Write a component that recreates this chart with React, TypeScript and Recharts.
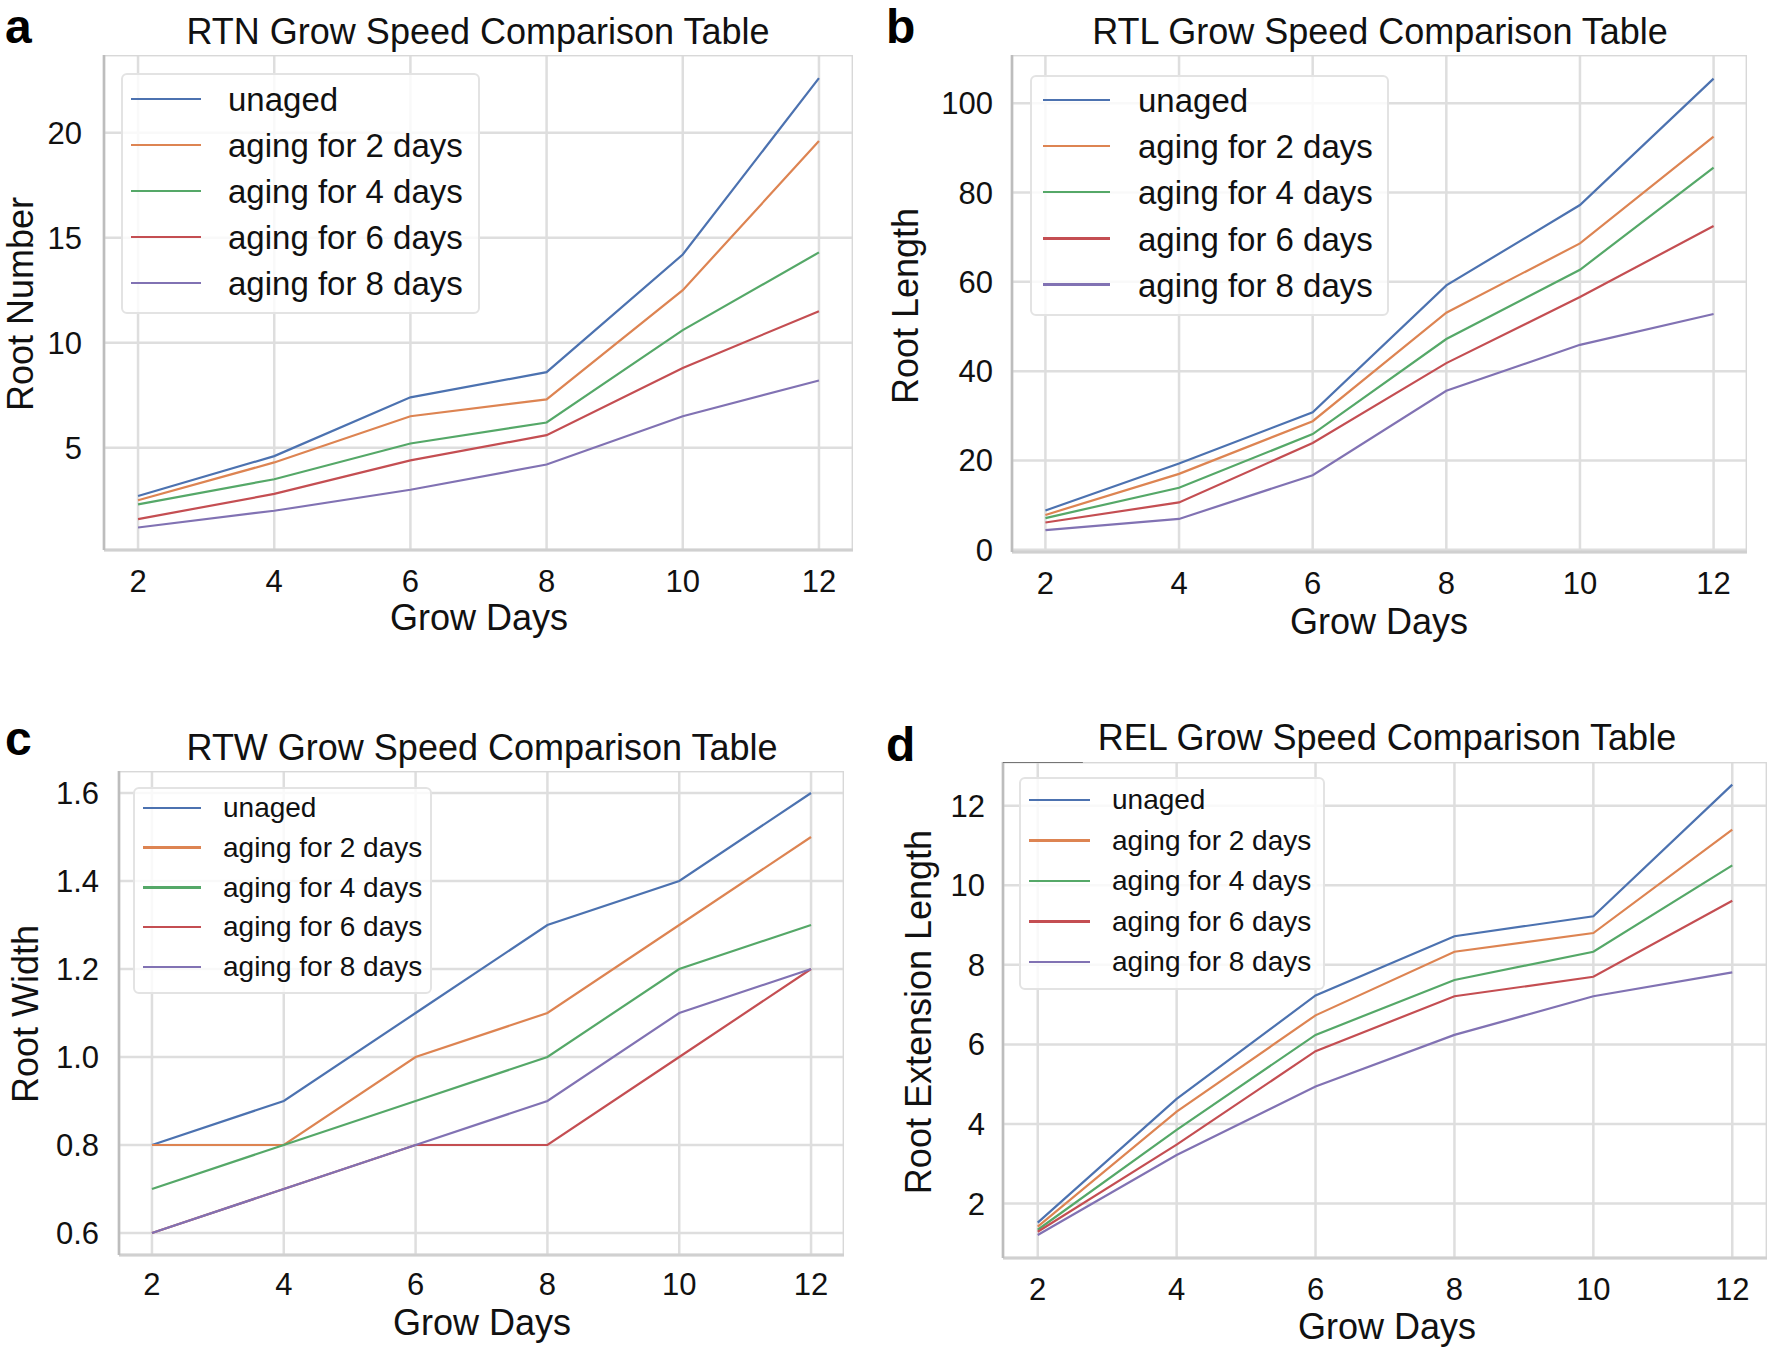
import React from 'react';
import { LineChart, Line, XAxis, YAxis, CartesianGrid, ReferenceLine, Legend } from 'recharts';

const FONT = "'Liberation Sans', Arial, Helvetica, sans-serif";

const days = [2, 4, 6, 8, 10, 12];
const seriesNames = ['unaged', 'aging for 2 days', 'aging for 4 days', 'aging for 6 days', 'aging for 8 days'];
const colors = ['#4C72B0', '#DD8452', '#55A868', '#C44E52', '#8172B3'];

// a: RTN (Root Number)
const rtnUnaged = [2.7, 4.6, 7.4, 8.6, 14.2, 22.6];
const rtnAging2 = [2.5, 4.3, 6.5, 7.3, 12.5, 19.6];
const rtnAging4 = [2.3, 3.5, 5.2, 6.2, 10.6, 14.3];
const rtnAging6 = [1.6, 2.8, 4.4, 5.6, 8.8, 11.5];
const rtnAging8 = [1.2, 2.0, 3.0, 4.2, 6.5, 8.2];
const rtnTicks = [5, 10, 15, 20];

// b: RTL (Root Length)
const rtlUnaged = [8.8, 19.3, 30.8, 59.2, 77.2, 105.5];
const rtlAging2 = [7.8, 17.0, 28.8, 53.1, 68.6, 92.5];
const rtlAging4 = [7.1, 13.9, 25.9, 47.2, 62.7, 85.6];
const rtlAging6 = [6.1, 10.6, 23.9, 41.8, 56.6, 72.5];
const rtlAging8 = [4.4, 6.9, 16.7, 35.6, 45.9, 52.8];
const rtlTicks = [0, 20, 40, 60, 80, 100];

// c: RTW (Root Width)
const rtwUnaged = [0.8, 0.9, 1.1, 1.3, 1.4, 1.6];
const rtwAging2 = [0.8, 0.8, 1.0, 1.1, 1.3, 1.5];
const rtwAging4 = [0.7, 0.8, 0.9, 1.0, 1.2, 1.3];
const rtwAging6 = [0.6, 0.7, 0.8, 0.8, 1.0, 1.2];
const rtwAging8 = [0.6, 0.7, 0.8, 0.9, 1.1, 1.2];
const rtwTicks = [0.6, 0.8, 1.0, 1.2, 1.4, 1.6];

// d: REL (Root Extension Length)
const relUnaged = [1.52, 4.63, 7.23, 8.72, 9.22, 12.53];
const relAging2 = [1.42, 4.31, 6.73, 8.33, 8.8, 11.4];
const relAging4 = [1.34, 3.85, 6.24, 7.62, 8.33, 10.5];
const relAging6 = [1.29, 3.48, 5.83, 7.21, 7.7, 9.61];
const relAging8 = [1.21, 3.22, 4.94, 6.24, 7.21, 7.81];
const relTicks = [2, 4, 6, 8, 10, 12];

const X_DOMAIN = [1.5, 12.5];
const Y_W = 100;
const X_H = 80;

type Cfg = {
  series: number[][];
  plot: { x: number; y: number; w: number; h: number };
  yDomain: number[];
  yTicks: number[];
  fmt?: (v: number) => string;
  yTickMargin: number;
  xTickMargin: number;
  legend: { x: number; y: number; w: number; h: number; rowH: number; first: number; lineX: number; lineW: number; textX: number; font: number };
  extraSegment?: boolean;
};

const panels: Cfg[] = [
  {
    series: [rtnUnaged, rtnAging2, rtnAging4, rtnAging6, rtnAging8],
    plot: { x: 104, y: 55, w: 749, h: 495 },
    yDomain: [0.13, 23.7],
    yTicks: rtnTicks,
    yTickMargin: 22,
    xTickMargin: 20,
    legend: { x: 121, y: 73, w: 359, h: 241, rowH: 46.1, first: 26, lineX: 10, lineW: 70, textX: 107, font: 33 },
  },
  {
    series: [rtlUnaged, rtlAging2, rtlAging4, rtlAging6, rtlAging8],
    plot: { x: 1012, y: 55, w: 735, h: 497 },
    yDomain: [-0.5, 110.8],
    yTicks: rtlTicks,
    yTickMargin: 19,
    xTickMargin: 20,
    legend: { x: 1030, y: 75, w: 359, h: 241, rowH: 46.2, first: 25, lineX: 13, lineW: 67, textX: 108, font: 33 },
  },
  {
    series: [rtwUnaged, rtwAging2, rtwAging4, rtwAging6, rtwAging8],
    plot: { x: 119, y: 771, w: 725, h: 484 },
    yDomain: [0.55, 1.65],
    yTicks: rtwTicks,
    fmt: (v: number) => v.toFixed(1),
    yTickMargin: 20,
    xTickMargin: 18,
    legend: { x: 133, y: 787, w: 299, h: 207, rowH: 39.75, first: 21, lineX: 10, lineW: 58, textX: 90, font: 28 },
  },
  {
    series: [relUnaged, relAging2, relAging4, relAging6, relAging8],
    plot: { x: 1003, y: 762, w: 764, h: 496 },
    yDomain: [0.63, 13.1],
    yTicks: relTicks,
    yTickMargin: 18,
    xTickMargin: 20,
    legend: { x: 1019, y: 777, w: 306, h: 213, rowH: 40.5, first: 23, lineX: 10, lineW: 61, textX: 93, font: 28 },
    extraSegment: true,
  },
];

const titles = [
  { text: 'RTN Grow Speed Comparison Table', x: 478, y: 32 },
  { text: 'RTL Grow Speed Comparison Table', x: 1380, y: 32 },
  { text: 'RTW Grow Speed Comparison Table', x: 482, y: 748 },
  { text: 'REL Grow Speed Comparison Table', x: 1387, y: 738 },
];
const xLabels = [
  { text: 'Grow Days', x: 479, y: 618 },
  { text: 'Grow Days', x: 1379, y: 622 },
  { text: 'Grow Days', x: 482, y: 1323 },
  { text: 'Grow Days', x: 1387, y: 1327 },
];
const yLabels = [
  { text: 'Root Number', x: 21, y: 304 },
  { text: 'Root Length', x: 906, y: 306 },
  { text: 'Root Width', x: 26, y: 1014 },
  { text: 'Root Extension Length', x: 919, y: 1012 },
];
const letters = [
  { text: 'a', x: 5, y: 6 },
  { text: 'b', x: 886, y: 6 },
  { text: 'c', x: 5, y: 718 },
  { text: 'd', x: 886, y: 724 },
];

function LegendBox({ lg }: { lg: Cfg['legend'] }) {
  return (
    <div
      style={{
        position: 'relative',
        width: lg.w,
        height: lg.h,
        boxSizing: 'border-box',
        border: '2px solid #e3e3e3',
        borderRadius: 6,
        background: 'rgba(255,255,255,0.82)',
        fontFamily: FONT,
      }}
    >
      {seriesNames.map((name, i) => {
        const cy = lg.first + i * lg.rowH;
        return (
          <React.Fragment key={name}>
            <div
              style={{
                position: 'absolute',
                left: lg.lineX - 2,
                top: cy - 2 - 1.5,
                width: lg.lineW,
                height: 2.5,
                background: colors[i],
              }}
            />
            <div
              style={{
                position: 'absolute',
                left: lg.textX - 2,
                top: cy - 2,
                transform: 'translateY(-50%)',
                fontSize: lg.font,
                lineHeight: 1,
                color: '#111',
                whiteSpace: 'nowrap',
              }}
            >
              {name}
            </div>
          </React.Fragment>
        );
      })}
    </div>
  );
}

function Panel({ cfg }: { cfg: Cfg }) {
  const data = days.map((d, i) => {
    const row: Record<string, number> = { day: d };
    cfg.series.forEach((s, j) => {
      row['s' + j] = s[i];
    });
    return row;
  });
  const left = cfg.plot.x - Y_W;
  const top = cfg.plot.y;
  const [y0, y1] = cfg.yDomain;
  const tickStyle = { fontSize: 31, fill: '#111', fontFamily: FONT };
  return (
    <div style={{ position: 'absolute', left, top }}>
      <LineChart
        width={cfg.plot.w + Y_W}
        height={cfg.plot.h + X_H}
        data={data}
        margin={{ top: 0, right: 0, bottom: 0, left: 0 }}
      >
        <CartesianGrid stroke="#dedede" strokeWidth={2.5} />
        <XAxis
          dataKey="day"
          type="number"
          domain={X_DOMAIN}
          ticks={days}
          allowDataOverflow
          axisLine={false}
          tickLine={false}
          tickSize={0}
          tickMargin={cfg.xTickMargin}
          height={X_H}
          interval={0}
          tick={tickStyle}
        />
        <YAxis
          type="number"
          domain={cfg.yDomain}
          ticks={cfg.yTicks}
          allowDataOverflow
          axisLine={false}
          tickLine={false}
          tickSize={0}
          tickMargin={cfg.yTickMargin}
          width={Y_W}
          interval={0}
          tick={tickStyle}
          tickFormatter={cfg.fmt}
        />
        <ReferenceLine x={X_DOMAIN[1]} stroke="#d8d8d8" strokeWidth={2.5} />
        <ReferenceLine y={y1} stroke="#d8d8d8" strokeWidth={2.5} />
        <ReferenceLine y={y0} stroke="#d0d0d0" strokeWidth={3} />
        <ReferenceLine x={X_DOMAIN[0]} stroke="#bdbdbd" strokeWidth={2.5} />
        {cfg.extraSegment ? (
          <ReferenceLine
            segment={[
              { x: 1.5, y: y1 },
              { x: 2.65, y: y1 },
            ]}
            stroke="#555"
            strokeWidth={1.5}
          />
        ) : null}
        {seriesNames.map((name, j) => (
          <Line
            key={name}
            type="linear"
            dataKey={'s' + j}
            name={name}
            stroke={colors[j]}
            strokeWidth={2.2}
            dot={false}
            activeDot={false}
            isAnimationActive={false}
          />
        ))}
        <Legend
          layout="vertical"
          align="center"
          verticalAlign="middle"
          wrapperStyle={{
            left: cfg.legend.x - left,
            top: cfg.legend.y - top,
            width: cfg.legend.w,
            height: cfg.legend.h,
          }}
          content={() => <LegendBox lg={cfg.legend} />}
        />
      </LineChart>
    </div>
  );
}

function Txt({ x, y, size, text, rotate }: { x: number; y: number; size: number; text: string; rotate?: boolean }) {
  return (
    <div
      style={{
        position: 'absolute',
        left: x,
        top: y,
        transform: `translate(-50%, -50%)${rotate ? ' rotate(-90deg)' : ''}`,
        fontSize: size,
        lineHeight: rotate ? 0.85 : 1,
        whiteSpace: 'nowrap',
        fontFamily: FONT,
        color: '#111',
      }}
    >
      {text}
    </div>
  );
}

export default function App() {
  return (
    <div
      style={{
        position: 'absolute',
        left: 0,
        top: 0,
        width: 1772,
        height: 1351,
        background: '#fff',
        overflow: 'hidden',
        fontFamily: FONT,
      }}
    >
      {panels.map((p, i) => (
        <Panel key={i} cfg={p} />
      ))}
      {titles.map((t) => (
        <Txt key={t.text} x={t.x} y={t.y} size={36} text={t.text} />
      ))}
      {xLabels.map((t, i) => (
        <Txt key={'x' + i} x={t.x} y={t.y} size={36} text={t.text} />
      ))}
      {yLabels.map((t) => (
        <Txt key={t.text} x={t.x} y={t.y} size={36} text={t.text} rotate />
      ))}
      {letters.map((l) => (
        <div
          key={l.text}
          style={{
            position: 'absolute',
            left: l.x,
            top: l.y,
            fontSize: 48,
            lineHeight: '42px',
            fontWeight: 700,
            fontFamily: FONT,
            color: '#000',
          }}
        >
          {l.text}
        </div>
      ))}
    </div>
  );
}
